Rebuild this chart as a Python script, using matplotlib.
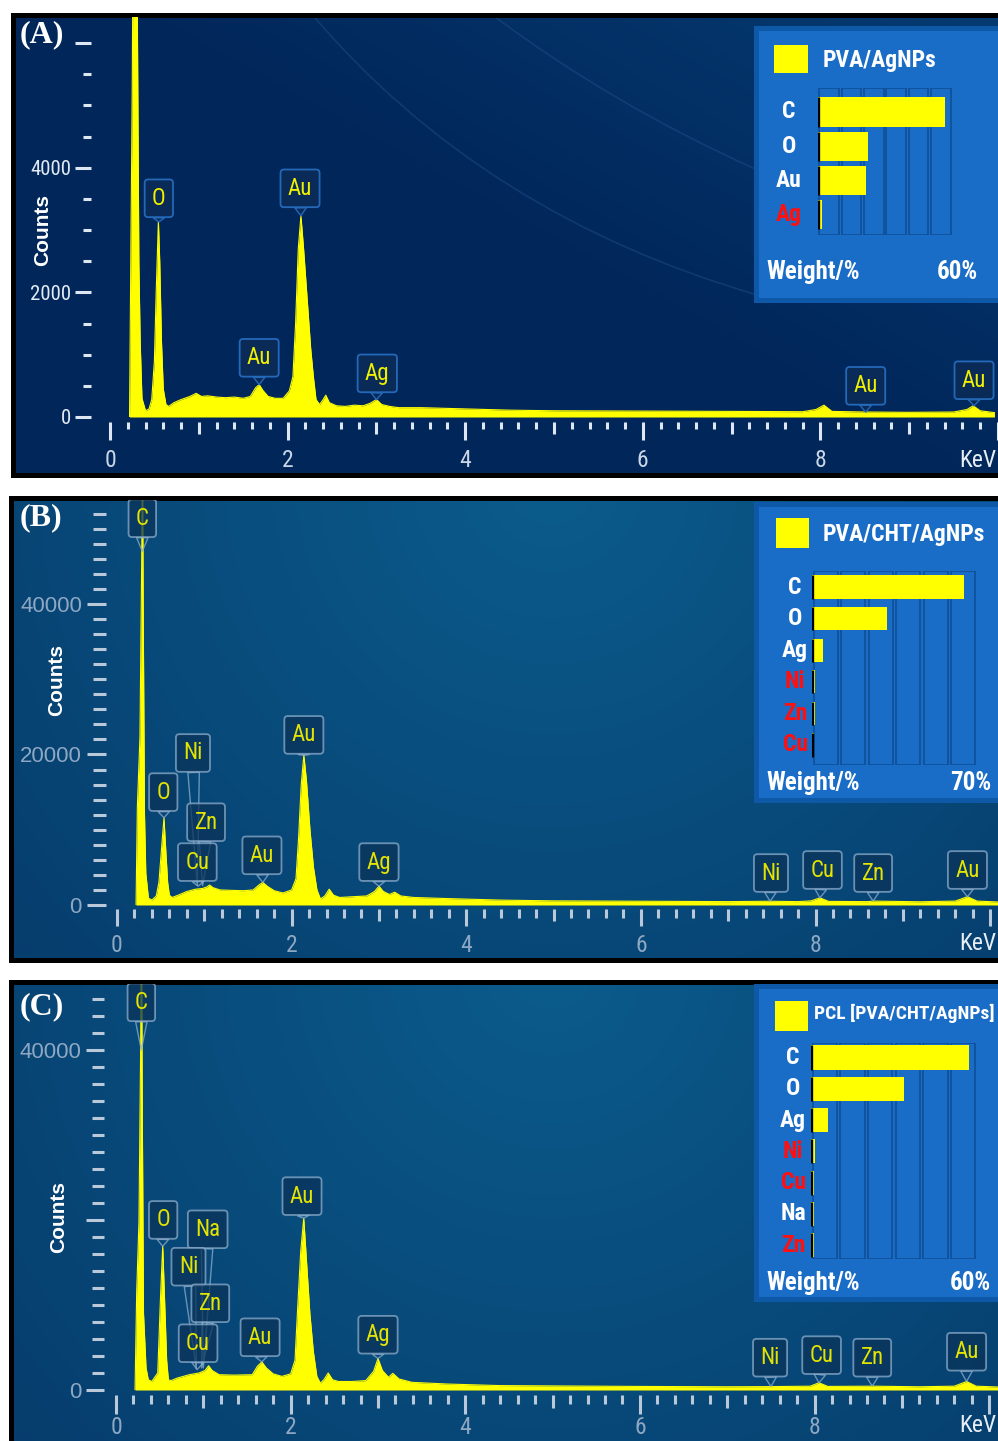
# -*- coding: utf-8 -*-
# Espectros EDS (A) PVA/AgNPs, (B) PVA/CHT/AgNPs, (C) PCL [PVA/CHT/AgNPs]
import numpy as np
from matplotlib import pyplot as plt
from matplotlib import font_manager
from matplotlib import colors as mcolors
from matplotlib.patches import Rectangle, PathPatch
from matplotlib.path import Path

W, H = 998, 1441

# ------------------------------------------------------------------
# Dados
# ------------------------------------------------------------------
# (A) PVA/AgNPs
kev_A = [0.22, 0.235, 0.25, 0.265, 0.28, 0.295, 0.31, 0.325, 0.34, 0.36,
         0.40, 0.44, 0.47, 0.50, 0.52, 0.545, 0.56, 0.58, 0.60, 0.63,
         0.66, 0.72, 0.80, 0.90, 0.97, 1.03, 1.10, 1.20, 1.30, 1.40,
         1.50, 1.58, 1.64, 1.68, 1.72, 1.78, 1.86, 1.95, 2.02, 2.06,
         2.09, 2.12, 2.15, 2.18, 2.22, 2.26, 2.29, 2.32, 2.36, 2.40,
         2.43, 2.47, 2.55, 2.65, 2.75, 2.85, 2.93, 3.00, 3.06, 3.15,
         3.25, 3.5, 4.0, 4.5, 5.0, 6.0, 7.0, 7.8, 7.95, 8.04,
         8.13, 8.5, 9.0, 9.5, 9.65, 9.72, 9.8, 9.96]
cont_A = [0, 2700, 5200, 9000, 12000, 11000, 6000, 2500, 1200, 300,
          100, 130, 280, 900, 2000, 3150, 2500, 1200, 450, 200,
          170, 230, 280, 330, 380, 330, 340, 320, 310, 320,
          300, 330, 470, 520, 430, 330, 300, 300, 420, 650,
          1500, 2700, 3230, 2700, 1900, 1100, 650, 280, 200, 280,
          350, 230, 180, 170, 190, 180, 220, 280, 200, 170,
          150, 150, 130, 110, 100, 95, 90, 85, 120, 190,
          90, 80, 75, 80, 120, 180, 100, 70]
picos_A = ['O', 'Au', 'Au', 'Ag', 'Au', 'Au']
picos_A_kev = [0.55, 2.15, 1.68, 3.00, 8.51, 9.73]
picos_A_cont = [3130, 3230, 520, 280, 80, 180]
elem_A = ['C', 'O', 'Au', 'Ag']
peso_A = [56.8, 22.4, 21.5, 2.0]
traco_A = ['Ag']

# (B) PVA/CHT/AgNPs
kev_B = [0.218, 0.233, 0.263, 0.283, 0.292, 0.30, 0.315, 0.33, 0.36, 0.40,
         0.45, 0.48, 0.51, 0.538, 0.555, 0.58, 0.60, 0.63, 0.70, 0.80,
         0.90, 0.98, 1.03, 1.06, 1.10, 1.18, 1.30, 1.45, 1.56, 1.63,
         1.67, 1.72, 1.80, 1.90, 2.00, 2.05, 2.08, 2.11, 2.14, 2.17,
         2.21, 2.25, 2.29, 2.33, 2.38, 2.43, 2.48, 2.55, 2.70, 2.86,
         2.95, 3.00, 3.05, 3.12, 3.18, 3.25, 3.40, 3.80, 4.40, 5.00,
         6.00, 7.00, 7.48, 7.80, 7.95, 8.05, 8.15, 8.60, 8.66, 9.20,
         9.60, 9.74, 9.85, 10.09]
cont_B = [0, 13000, 22400, 46000, 60000, 40000, 12000, 4200, 900, 660,
          1200, 3000, 7500, 11600, 8000, 3000, 1300, 1000, 1300, 1800,
          2100, 2200, 2400, 2650, 2300, 2000, 1950, 1900, 2000, 2700,
          3000, 2500, 1900, 1600, 2000, 3500, 9000, 16000, 19900, 16500,
          10000, 5000, 2000, 800, 1200, 2100, 1300, 1000, 1100, 1200,
          1800, 2500, 1800, 1400, 1700, 1200, 1000, 850, 650, 550,
          500, 450, 500, 450, 550, 950, 480, 450, 520, 430,
          520, 1100, 520, 400]
picos_B = ['C', 'Ni', 'O', 'Zn', 'Cu', 'Au', 'Au', 'Ag', 'Ni', 'Cu', 'Zn', 'Au']
picos_B_kev = [0.29, 0.92, 0.538, 0.98, 0.93, 1.67, 2.14, 3.00, 7.48, 8.05, 8.66, 9.74]
picos_B_cont = [47000, 2600, 11600, 2600, 2500, 3000, 19900, 2500, 500, 950, 520, 1100]
elem_B = ['C', 'O', 'Ag', 'Ni', 'Zn', 'Cu']
peso_B = [64.5, 32.0, 4.7, 1.4, 1.4, 0.9]
traco_B = ['Ni', 'Zn', 'Cu']

# (C) PCL [PVA/CHT/AgNPs]
kev_C = [0.218, 0.237, 0.263, 0.283, 0.29, 0.30, 0.315, 0.344, 0.37, 0.41,
         0.45, 0.478, 0.51, 0.535, 0.555, 0.58, 0.60, 0.63, 0.70, 0.84,
         0.95, 1.02, 1.06, 1.10, 1.18, 1.35, 1.56, 1.62, 1.67, 1.72,
         1.80, 1.90, 2.00, 2.05, 2.08, 2.115, 2.15, 2.18, 2.22, 2.26,
         2.30, 2.34, 2.38, 2.43, 2.48, 2.55, 2.70, 2.86, 2.95, 3.00,
         3.05, 3.12, 3.17, 3.24, 3.39, 3.80, 4.39, 5.00, 6.00, 7.00,
         7.50, 7.95, 8.05, 8.15, 8.66, 9.20, 9.60, 9.74, 9.85, 10.10]
cont_C = [0, 11600, 19800, 41000, 60000, 35000, 9000, 2600, 1200, 1000,
          1600, 2000, 11000, 16900, 11000, 3500, 1200, 1100, 1400, 1800,
          2000, 2300, 2850, 2300, 1800, 1750, 1800, 2800, 3300, 2600,
          1900, 1600, 1900, 3500, 9600, 16300, 20200, 15400, 9000, 4500,
          1600, 800, 1200, 2000, 1200, 1000, 1000, 1100, 2200, 3700,
          2300, 1500, 1960, 1300, 900, 700, 520, 480, 420, 380,
          400, 450, 850, 420, 450, 380, 450, 1000, 450, 350]
picos_C = ['C', 'O', 'Na', 'Ni', 'Zn', 'Cu', 'Au', 'Au', 'Ag', 'Ni', 'Cu', 'Zn', 'Au']
picos_C_kev = [0.29, 0.535, 1.00, 0.92, 0.98, 0.93, 1.67, 2.15, 3.00, 7.50, 8.05, 8.66, 9.74]
picos_C_cont = [40000, 16900, 2600, 2500, 2600, 2400, 3300, 20200, 3700, 400, 850, 450, 1000]
elem_C = ['C', 'O', 'Ag', 'Ni', 'Cu', 'Na', 'Zn']
peso_C = [57.1, 33.6, 6.2, 1.6, 1.2, 1.0, 1.0]
traco_C = ['Ni', 'Cu', 'Zn']

# Posição dos rótulos dos picos (keV, contagens do centro do texto)
rot_A = [(0.55, 3510), (2.14, 3670), (1.68, 950), (3.01, 700), (8.51, 500), (9.73, 590)]
rot_B = [(0.29, 51400), (0.87, 20200), (0.53, 15000), (1.02, 11000), (0.92, 5700),
         (1.66, 6600), (2.14, 22600), (3.00, 5700), (7.49, 4250), (8.08, 4650),
         (8.66, 4250), (9.74, 4650)]
rot_C = [(0.29, 45600), (0.54, 20000), (1.05, 18900), (0.83, 14500), (1.08, 10200),
         (0.94, 5500), (1.65, 6200), (2.13, 22800), (3.00, 6500), (7.49, 3800),
         (8.08, 4100), (8.66, 3800), (9.74, 4500)]

# ------------------------------------------------------------------
# Fontes: tenta uma família estreita, senão Liberation Sans um pouco menor
# ------------------------------------------------------------------
fl = font_manager.fontManager.ttflist
NARROW, k = 'Liberation Sans', 0.9
for nome in ['Liberation Sans Narrow', 'Roboto Condensed', 'Open Sans Condensed']:
    if any(f.name == nome for f in fl):
        NARROW, k = nome, 1.0
        break


def fn(size, bold=False):
    return dict(fontfamily=NARROW, fontsize=size * k, fontweight='bold' if bold else 'normal')


fig = plt.figure(figsize=(W / 100, H / 100), dpi=100)
fig.patch.set_facecolor('white')


def rect(x0, y0, x1, y1):
    # retângulo em pixels (origem no topo) -> coordenadas da figura
    return [x0 / W, 1 - y1 / H, (x1 - x0) / W, (y1 - y0) / H]


def ftext(x, y, s, **kw):
    return fig.text(x / W, 1 - y / H, s, **kw)


# Fundo azul do painel com moldura preta
def fundo(x0, y0, x1, y1, tipo):
    ax = fig.add_axes(rect(x0, y0, x1, y1))
    w, h = x1 - x0, y1 - y0
    yy, xx = np.mgrid[0:h:2.0, 0:w:2.0]
    if tipo == 'A':
        t = np.clip(1.2 * (xx / w - 0.35) + (0.3 - yy / h), 0, 1)
        c0, c1 = '#01265a', '#053a70'
    else:
        t = np.clip(np.hypot(xx - 540, yy + 20) / 700, 0, 1)
        c0, c1 = '#0b5c8c', '#063e6e'
    c0 = np.array(mcolors.to_rgb(c0))
    c1 = np.array(mcolors.to_rgb(c1))
    img = c0 + (c1 - c0) * t[..., None]
    ax.imshow(img, extent=(0, w, h, 0), aspect='auto', interpolation='bilinear')
    if tipo == 'A':
        # traços curvos e claros do fundo do programa
        for p in ([(480, 0), (600, 90), (745, 155)], [(300, 0), (470, 200), (745, 280)]):
            ax.add_patch(PathPatch(Path(p, [Path.MOVETO, Path.CURVE3, Path.CURVE3]),
                                   fc='none', ec='#2a5d95', lw=1.2, alpha=0.35))
        ax.set_xlim(0, w)
        ax.set_ylim(h, 0)
    ax.set_xticks([])
    ax.set_yticks([])
    for s in ax.spines.values():
        s.set_color('black')
        s.set_linewidth(3.6)
    return ax


# Espectro com eixos, marcas e rótulos dos picos
def espectro(caixa, xmax, ymax, kev, cont, yt_maj, yt_lab, yt_min, picos, pk_kev, pk_cont, rot, e):
    ax = fig.add_axes(rect(*caixa))
    ax.set_facecolor('none')
    ax.set_xlim(0, xmax)
    ax.set_ylim(0, ymax)
    ax.fill_between(kev, cont, 0, color='#ffff00', lw=0, zorder=2)
    ax.plot(kev, cont, color='#ffff00', lw=0.8, zorder=2)

    for s in ('top', 'right'):
        ax.spines[s].set_visible(False)
    ax.spines['bottom'].set_position(('outward', e['x_off']))
    ax.spines['bottom'].set_color('none')
    ax.spines['left'].set_position(('outward', e['y_off']))
    ax.spines['left'].set_color('none')

    ax.set_xticks(range(11))
    ax.set_xticklabels([str(i) if i % 2 == 0 and i < 10 else '' for i in range(11)])
    ax.set_xticks(np.arange(0, 10.01, 0.2), minor=True)
    ax.tick_params(axis='x', which='major', direction='out', length=e['x_len'][0], width=2.2,
                   color=e['tick'], labelcolor=e['xlab'], labelsize=17 * k,
                   labelfontfamily=NARROW, pad=e['x_pad'])
    ax.tick_params(axis='x', which='minor', direction='out', length=e['x_len'][2], width=2.2,
                   color=e['tick'])
    for i, t in enumerate(ax.xaxis.get_major_ticks()):
        if i % 2:
            t.tick1line.set_markersize(e['x_len'][1])

    ax.set_yticks(yt_maj)
    ax.set_yticklabels(yt_lab)
    ax.set_yticks(yt_min, minor=True)
    ax.tick_params(axis='y', which='major', direction='out', length=e['y_len'][0], width=2.2,
                   color=e['tick'], labelcolor=e['ylab'], labelsize=e['ysize'],
                   labelfontfamily=e['yfont'], pad=e['y_pad'])
    ax.tick_params(axis='y', which='minor', direction='out', length=e['y_len'][1], width=2.2,
                   color=e['tick'])

    for nome, xk, yc, (tx, ty) in zip(picos, pk_kev, pk_cont, rot):
        ax.annotate(nome, xy=(xk, yc), xytext=(tx, ty), ha='center', va='center',
                    color=e['txt'], clip_on=True, zorder=4, **fn(16.5),
                    bbox=dict(boxstyle='round,pad=0.32,rounding_size=0.15',
                              fc=e['bfc'], ec=e['bec'], lw=1.3),
                    arrowprops=dict(arrowstyle='wedge,tail_width=0.5', fc=e['afc'],
                                    ec=e['bec'], lw=1.0, shrinkA=0, shrinkB=0))
    return ax


# Quadro com as porcentagens em massa
def quadro_peso(caixa, quad, titulo, tit_xy, tit_size, grade, escala, elems, pesos, traco,
                lin0, passo, alt, lab_x, rodape_y, rot_max):
    x0, y0, x1, y1 = caixa
    fig.add_artist(Rectangle((x0 / W, 1 - y1 / H), (x1 - x0) / W, (y1 - y0) / H,
                             transform=fig.transFigure, fc='#1a6dc6', ec='#0e59a7',
                             lw=3.6, zorder=2))
    qx0, qy0, qx1, qy1 = quad
    fig.add_artist(Rectangle((qx0 / W, 1 - qy1 / H), (qx1 - qx0) / W, (qy1 - qy0) / H,
                             transform=fig.transFigure, fc='#ffff00', lw=0, zorder=3))
    ftext(tit_xy[0], tit_xy[1], titulo, ha='left', va='center', color='white',
          zorder=4, **fn(tit_size, True))

    gx0, gy0, gx1, gy1 = grade
    ax = fig.add_axes(rect(gx0, gy0, gx1, gy1))
    ax.set_zorder(5)
    ax.axis('off')
    n = len(elems)
    topo = (gy0 - lin0) / passo
    base = (gy1 - lin0) / passo
    ax.set_xlim(0, escala)
    ax.set_ylim(base, topo)
    cw = escala / 6
    for i in range(6):
        ax.add_patch(Rectangle((i * cw + 0.06 * cw, topo), 0.88 * cw, base - topo,
                               fc='none', ec='#0f4f98', lw=1.2, zorder=1))
    y = np.arange(n)
    ax.barh(y, pesos, height=alt, color='#ffff00', lw=0, zorder=3)
    ax.vlines(np.zeros(n), y - alt / 2, y + alt / 2, color='black', lw=2.4, zorder=4)
    for i, el in enumerate(elems):
        ax.text((lab_x - gx0) / (gx1 - gx0), i, el, transform=ax.get_yaxis_transform(),
                ha='center', va='center', color='#ff1010' if el in traco else 'white',
                **fn(17, True))
    ftext(766, rodape_y, 'Weight/%', ha='left', va='center', color='white', zorder=4, **fn(18, True))
    ftext(rot_max[1], rodape_y, rot_max[0], ha='right', va='center', color='white',
          zorder=4, **fn(18, True))


# ------------------------------------------------------------------
# Estilos
# ------------------------------------------------------------------
est_A = dict(tick='#dde7f2', xlab='#c9d7e6', ylab='#e2eaf3', ysize=15 * k, yfont=NARROW,
             x_len=(13, 8.6, 5), x_off=3.6, x_pad=6.5, y_len=(11.5, 5.8), y_off=13.7, y_pad=2.9,
             txt='#f0f000', bfc='#0a2a57', bec='#2468b8', afc='#0a2a57')
est_BC = dict(tick='#b9c9da', xlab='#8ea8c3', ylab='#8ea8c3', ysize=16, yfont='Liberation Sans',
              x_len=(12.2, 8.6, 6.5), x_off=2.9, x_pad=6, y_len=(13.7, 9.4), y_off=7.9, y_pad=3.6,
              txt='#e4e400', bfc=(0.04, 0.20, 0.35, 0.75), bec=(0.55, 0.68, 0.80, 0.75), afc='none')
est_C = dict(est_BC, x_len=(13.7, 9.4, 6.5), x_off=3.6, x_pad=1.5, y_len=(13, 8.6), y_off=8.6)

# ------------------------------------------------------------------
# Painel (A)
# ------------------------------------------------------------------
fundo(12.5, 15, 1010, 474.5, 'A')
espectro((110, 17, 998, 417), 9.966, 6420, kev_A, cont_A,
         [0, 2000, 4000, 6000], ['0', '2000', '4000', ''], np.arange(0, 6001, 500),
         picos_A, picos_A_kev, picos_A_cont, rot_A, est_A)
quadro_peso((755.5, 28, 1010, 299.5), (774, 45, 808, 73), 'PVA/AgNPs', (823, 60), 17,
            (818, 88, 952, 235), 60, elem_A, peso_A, traco_A, 112, 34.3, 0.85, 789, 272,
            ('60%', 978))
ftext(20, 35, '(A)', ha='left', va='center', color='white', fontfamily='Liberation Serif',
      fontweight='bold', fontsize=23, zorder=6)
ftext(43, 230, 'Counts', rotation=90, ha='center', va='center', color='white',
      fontfamily='Liberation Sans', fontweight='bold', fontsize=15)
ftext(996, 460, 'KeV', ha='right', va='center', color='#e6edf5', **fn(17))

# ------------------------------------------------------------------
# Painel (B)
# ------------------------------------------------------------------
fundo(11, 497.5, 1010, 960, 'B')
espectro((117, 500, 998, 905), 10.09, 53820, kev_B, cont_B,
         [0, 20000, 40000], ['0', '20000', '40000'], np.arange(0, 53000, 2000),
         picos_B, picos_B_kev, picos_B_cont, rot_B, est_BC)
quadro_peso((756, 504, 1010, 800), (776, 518, 809, 548), 'PVA/CHT/AgNPs', (823, 534), 17,
            (812, 571, 977, 765), 70, elem_B, peso_B, traco_B, 587, 31.6, 0.74, 795, 783,
            ('70%', 991))
ftext(20, 518, '(B)', ha='left', va='center', color='white', fontfamily='Liberation Serif',
      fontweight='bold', fontsize=23, zorder=6)
ftext(57, 680, 'Counts', rotation=90, ha='center', va='center', color='white',
      fontfamily='Liberation Sans', fontweight='bold', fontsize=15)
ftext(996, 944, 'KeV', ha='right', va='center', color='#e6edf5', **fn(17))

# ------------------------------------------------------------------
# Painel (C)
# ------------------------------------------------------------------
fundo(11, 981.5, 1010, 1450, 'C')
espectro((116, 984, 998, 1390), 10.10, 47750, kev_C, cont_C,
         [0, 20000, 40000], ['0', '', '40000'], np.arange(0, 47000, 2000),
         picos_C, picos_C_kev, picos_C_cont, rot_C, est_C)
quadro_peso((756, 986, 1010, 1299), (775, 1001, 808, 1031), 'PCL [PVA/CHT/AgNPs]', (814, 1013), 14,
            (811, 1043, 977, 1259), 60, elem_C, peso_C, traco_C, 1057.5, 31.3, 0.77, 793, 1283,
            ('60%', 991))
ftext(20, 1007, '(C)', ha='left', va='center', color='white', fontfamily='Liberation Serif',
      fontweight='bold', fontsize=23, zorder=6)
ftext(59, 1217, 'Counts', rotation=90, ha='center', va='center', color='white',
      fontfamily='Liberation Sans', fontweight='bold', fontsize=15)
ftext(996, 1426, 'KeV', ha='right', va='center', color='#e6edf5', **fn(17))

fig.savefig('out.png', dpi=100)
